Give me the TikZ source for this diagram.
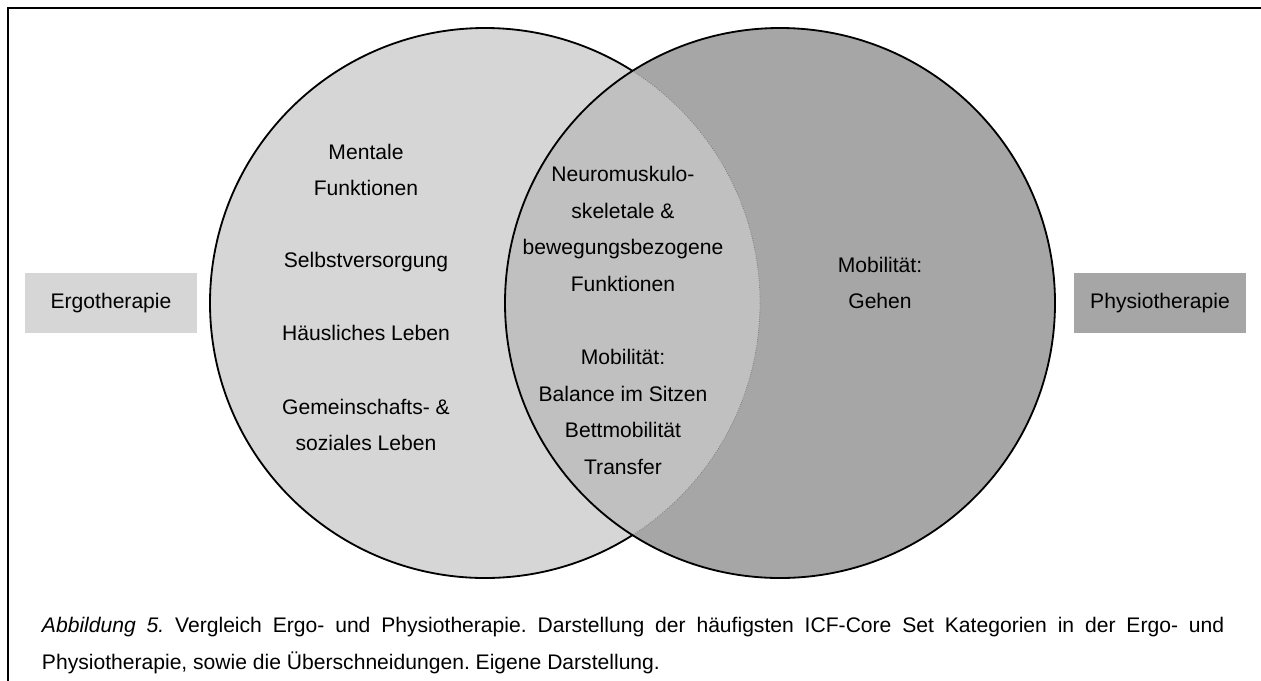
\documentclass[tikz,border=0pt]{standalone}
\usepackage{fontspec}
\setmainfont{Liberation Sans}
\frenchspacing

\definecolor{ergogray}{HTML}{D6D6D6}
\definecolor{schnittgray}{HTML}{C0C0C0}
\definecolor{physiogray}{HTML}{A6A6A6}

\tikzset{
  kreis/.style={line width=1.3pt},
  kategorie/.style={font=\fontsize{15}{26}\selectfont, align=center, inner sep=0pt},
  therapiebox/.style={font=\fontsize{15}{18}\selectfont, minimum width=4.275cm,
    minimum height=1.5cm, inner sep=0pt}
}

\begin{document}
\begin{tikzpicture}[x=0.025cm, y=-0.025cm]
\useasboundingbox (0,0) rectangle (1261,680);

% Rahmen
\draw[line width=1.4pt] (8,740) -- (8,8) -- (1300,8);

\begin{scope}

\fill[ergogray] (485,303) circle (275);
\fill[physiogray] (780,303) circle (275);

\begin{scope}
  \clip (485,303) circle (275);
  \fill[schnittgray] (780,303) circle (275);
\end{scope}

\begin{scope}
  \clip (780,303) circle (275);
  \draw[gray, densely dotted, line width=0.6pt] (485,303) circle (275);
\end{scope}

% Kreislinien
\begin{scope}[even odd rule]
  \clip (0,0) rectangle (1261,680) (780,303) circle (275);
  \draw[kreis] (485,303) circle (275);
\end{scope}
\draw[kreis] (780,303) circle (275);

\end{scope}

% Kategorien Ergotherapie
\node[kategorie] (mental) at (366,170) {Mentale\\Funktionen};
\node[kategorie] (selbst) at (366,262) {Selbstversorgung};
\node[kategorie] (haus) at (366,333) {Häusliches Leben};
\node[kategorie] (gemein) at (366,425) {Gemeinschafts- \&\\soziales Leben};

% Schnittmenge
\node[kategorie] (neuro) at (623,229) {Neuromuskulo-\\skeletale \&\\bewegungsbezogene\\Funktionen};
\node[kategorie] (mobil) at (623,412) {Mobilität:\\Balance im Sitzen\\Bettmobilität\\Transfer};

% Physiotherapie
\node[kategorie] (gehen) at (880,283) {Mobilität:\\Gehen};

\node[therapiebox, fill=ergogray] (ergo) at (111,303) {Ergotherapie};
\node[therapiebox, fill=physiogray] (physio) at (1160,303) {Physiotherapie};

% Bildunterschrift
\node[anchor=north west, inner sep=0pt, text width=29.55cm, align=justify,
  font=\fontsize{15}{26}\selectfont] (caption) at (41.7,617)
  {\textit{Abbildung 5.} Vergleich Ergo- und Physiotherapie. Darstellung der häufigsten ICF-Core Set Kategorien in der Ergo- und\linebreak
   Physiotherapie, sowie die Überschneidungen. Eigene Darstellung.};

\end{tikzpicture}
\end{document}
